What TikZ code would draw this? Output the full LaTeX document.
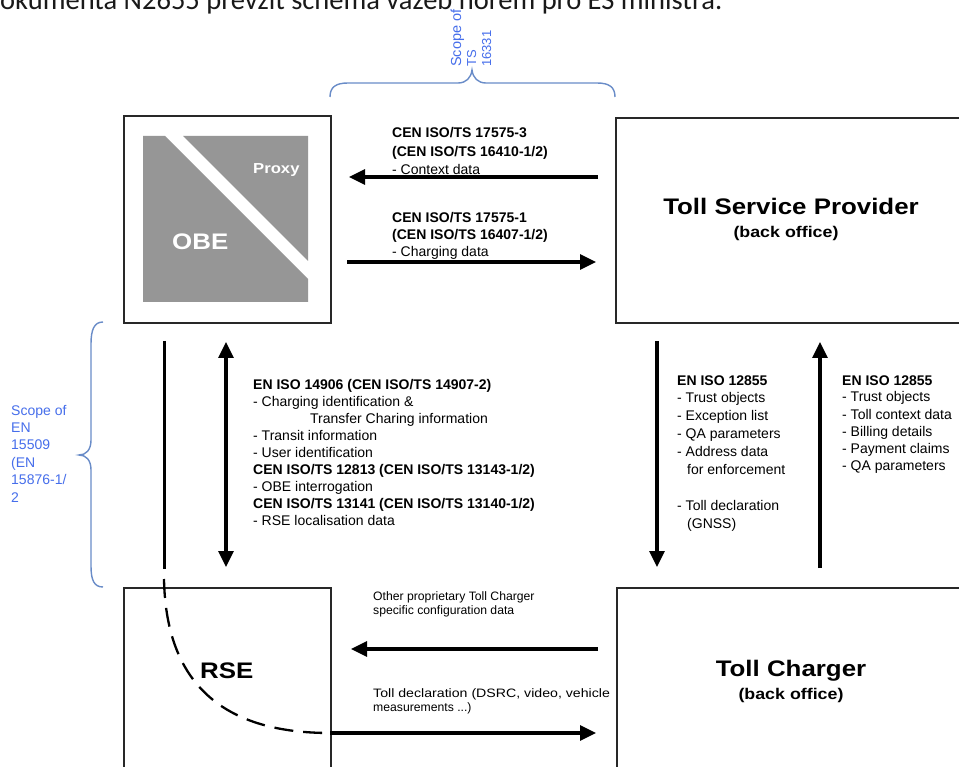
\documentclass[tikz,border=0pt]{standalone}
\usepackage{fontspec}
\setmainfont{Liberation Sans}
\newfontfamily\titlefont[FakeStretch=1.15]{Liberation Sans}
\newfontfamily\czfont{Carlito}
\usetikzlibrary{arrows.meta}
\definecolor{obegray}{RGB}{150,150,150}
\definecolor{scopeblue}{RGB}{70,110,235}
\definecolor{bracecol}{RGB}{105,140,200}
\definecolor{boxline}{RGB}{40,40,40}
\begin{document}
\begin{tikzpicture}[x=1pt,y=-1pt,
  box/.style={draw=boxline, line width=1.8pt, inner sep=0pt, anchor=north west},
  arr/.style={line width=3.2pt, -{Triangle[length=16pt,width=15pt]}},
  darr/.style={line width=3.2pt, {Triangle[length=16pt,width=15pt]}-{Triangle[length=16pt,width=15pt]}},
  lab/.style={inner sep=0pt, anchor=base west, font=\fontsize{14}{17}\selectfont},
  slab/.style={inner sep=0pt, anchor=base west, font=\fontsize{12.2}{15}\selectfont},
  ttl/.style={inner sep=0pt, anchor=base, font=\titlefont\bfseries\fontsize{22.5}{27}\selectfont},
  subttl/.style={inner sep=0pt, anchor=base, font=\titlefont\bfseries\fontsize{15.5}{18}\selectfont},
  scopetxt/.style={inner sep=0pt, anchor=base west, text=scopeblue, font=\fontsize{14}{17}\selectfont},
  brace/.style={draw=bracecol, line width=1.4pt},
]
\useasboundingbox (0,0) rectangle (959,767);
\fill[white] (0,0) rectangle (959,767);

% header line (cut off at the top)
\node[anchor=base west, inner sep=0pt, text={rgb,255:red,25;green,25;blue,25}, font=\czfont\fontsize{28.5}{32}\selectfont] (cz) at (0,9.5) {okumenta N2655 převzít schéma vazeb horem pro ES ministra.};

% boxes
\node[box, minimum width=207pt, minimum height=207pt] (obe) at (123,115) {};
\node[box, minimum width=380pt, minimum height=205pt] (tsp) at (615,117) {};
\node[box, minimum width=207pt, minimum height=200pt] (rse) at (123,587) {};
\node[box, minimum width=380pt, minimum height=200pt] (tc) at (616,587) {};

% OBE graphic
\fill[obegray] (143,136) -- (165,136) -- (308,279) -- (308,302) -- (143,302) -- cycle;
\fill[obegray] (183,136) -- (308,136) -- (308,261) -- cycle;
\node[ttl, anchor=base west, text=white] (obet) at (172,250) {OBE};
\node[inner sep=0pt, anchor=base west, text=white, font=\titlefont\bfseries\fontsize{14.5}{17}\selectfont] (proxy) at (253,174) {Proxy};

% titles
\node[ttl] (tspt) at (791,215) {Toll Service Provider};
\node[subttl] (tspb) at (786,238) {(back office)};
\node[ttl] (tct) at (791,676) {Toll Charger};
\node[subttl] (tcb) at (791,699) {(back office)};
\node[ttl, anchor=base west] (rset) at (200,678) {RSE};

% connector end points
\coordinate (a1s) at (598,177); \coordinate (a1e) at (349,177);
\coordinate (a2s) at (347,262); \coordinate (a2e) at (596,262);
\coordinate (v1s) at (164,341); \coordinate (v1e) at (164,569);
\coordinate (d1s) at (164,579); \coordinate (d1e) at (330,733);
\coordinate (a8e) at (596,733);
\coordinate (b1s) at (226,342); \coordinate (b1e) at (226,567);
\coordinate (c1s) at (657,341); \coordinate (c1e) at (657,567);
\coordinate (e1s) at (820,568); \coordinate (e1e) at (820,342);
\coordinate (f1s) at (598,649); \coordinate (f1e) at (351,649);

\draw[arr] (a1s) -- (a1e);
\draw[arr] (a2s) -- (a2e);
\draw[line width=3pt] (v1s) -- (v1e);
\draw[line width=2.3pt, dash pattern=on 19pt off 10pt] (d1s) .. controls (166,690) and (230,733) .. (d1e);
\draw[arr] (d1e) -- (a8e);
\draw[darr] (b1s) -- (b1e);
\draw[arr] (c1s) -- (c1e);
\draw[arr] (e1s) -- (e1e);
\draw[arr] (f1s) -- (f1e);

% block A
\node[lab, font=\fontsize{14}{17}\selectfont\bfseries] (ta1) at (392,138) {CEN ISO/TS 17575-3};
\node[lab, font=\fontsize{14}{17}\selectfont\bfseries] (ta2) at (392,157) {(CEN ISO/TS 16410-1/2)};
\node[lab] (ta3) at (392,175) {- Context data};
% block B
\node[lab, font=\fontsize{14}{17}\selectfont\bfseries] (tb1) at (392,223) {CEN ISO/TS 17575-1};
\node[lab, font=\fontsize{14}{17}\selectfont\bfseries] (tb2) at (392,240) {(CEN ISO/TS 16407-1/2)};
\node[lab] (tb3) at (392,257) {- Charging data};

% block C
\foreach \t [count=\i from 0] in {{\bfseries EN ISO 14906 (CEN ISO/TS 14907-2)},
  {- Charging identification \&},
  {\hspace*{57pt}Transfer Charing information},
  {- Transit information},
  {- User identification},
  {\bfseries CEN ISO/TS 12813 (CEN ISO/TS 13143-1/2)},
  {- OBE interrogation},
  {\bfseries CEN ISO/TS 13141 (CEN ISO/TS 13140-1/2)},
  {- RSE localisation data}}
  \node[lab] (tc\i) at (253,390+\i*16.9) {\t};

% block D
\foreach \t [count=\i from 0] in {{\bfseries EN ISO 12855},
  {- Trust objects},
  {- Exception list},
  {- QA parameters},
  {- Address data},
  {\hspace*{10pt}for enforcement},
  {},
  {- Toll declaration},
  {\hspace*{10pt}(GNSS)}}
  \node[lab] (td\i) at (677,385+\i*17.9) {\t};

% block E
\foreach \t [count=\i from 0] in {{\bfseries EN ISO 12855},
  {- Trust objects},
  {- Toll context data},
  {- Billing details},
  {- Payment claims},
  {- QA parameters}}
  \node[lab] (te\i) at (842,385+\i*17) {\t};

% blocks F and G
\node[slab] (tf1) at (373,600) {Other proprietary Toll Charger};
\node[slab] (tf2) at (373,614) {specific configuration data};
\node[slab] (tg1) at (373,697) {\scalebox{1.16}[1]{Toll declaration (DSRC, video, vehicle}};
\node[slab] (tg2) at (373,711) {measurements ...)};

% scope of EN 15509 (left)
\draw[brace] (103,322) .. controls (94,322) and (91,330) .. (91,344) -- (91,440)
  .. controls (91,450) and (86,455) .. (79,455)
  .. controls (86,455) and (91,460) .. (91,470) -- (91,566)
  .. controls (91,580) and (94,587) .. (103,587);
\foreach \t [count=\i from 0] in {{Scope of}, {EN}, {15509}, {(EN}, {15876-1/}, {2}}
  \node[scopetxt] (sl\i) at (11,415+\i*17.4) {\t};

% scope of TS 16331 (top)
\draw[brace] (330,97) .. controls (330,87) and (336,83) .. (348,83) -- (458,83)
  .. controls (466,83) and (471,78) .. (472,70)
  .. controls (473,78) and (478,83) .. (486,83) -- (597,83)
  .. controls (609,83) and (615,87) .. (615,97);
\node[scopetxt, rotate=90, font=\fontsize{14.5}{15}\selectfont] (st1) at (461,67) {Scope of};
\node[scopetxt, rotate=90, font=\fontsize{13}{15}\selectfont] (st2) at (476,67) {TS};
\node[scopetxt, rotate=90, font=\fontsize{13}{15}\selectfont] (st3) at (491,67) {16331};
\end{tikzpicture}
\end{document}
